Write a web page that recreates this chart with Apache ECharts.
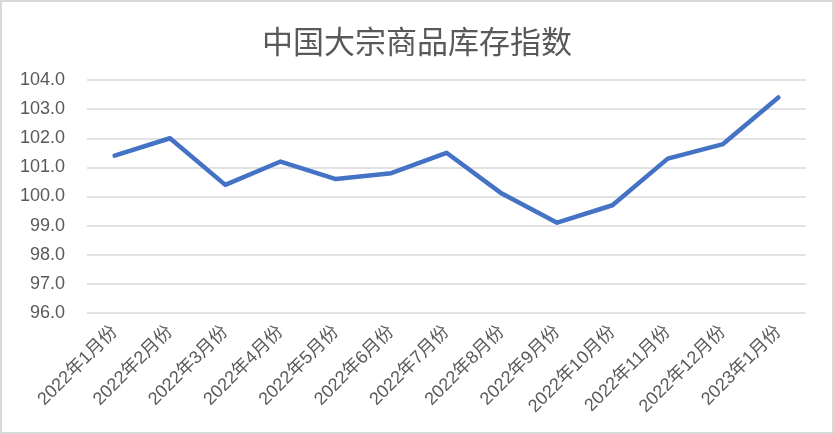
<!DOCTYPE html>
<html><head><meta charset="utf-8">
<script src="https://cdn.jsdelivr.net/npm/echarts@6/dist/echarts.min.js"></script>
<style>html,body{margin:0;padding:0;background:#fff}#c{width:834px;height:434px}</style>
</head><body><div id="c"></div>
<script>
const title = '中国大宗商品库存指数';
const categories = ['2022年1月份','2022年2月份','2022年3月份','2022年4月份','2022年5月份','2022年6月份','2022年7月份','2022年8月份','2022年9月份','2022年10月份','2022年11月份','2022年12月份','2023年1月份'];
const values = [101.4, 102.0, 100.4, 101.2, 100.6, 100.8, 101.5, 100.1, 99.1, 99.7, 101.3, 101.8, 103.4];
const yMin = 96, yMax = 104, yStep = 1;

const chart = echarts.init(document.getElementById('c'), null, {renderer:'canvas'});
chart.setOption({
  backgroundColor:'#fff',
  animation:false,
  graphic:[{type:'rect', shape:{x:1,y:1,width:832,height:432}, style:{fill:'none', stroke:'#d9d9d9', lineWidth:2}, silent:true}],
  title:{text:title, left:'center', top:21, textStyle:{color:'#595959', fontSize:31, fontWeight:'normal', fontFamily:'Noto Sans CJK SC'}},
  grid:{left:87, right:28, top:80, bottom:121},
  xAxis:{type:'category', data:categories, boundaryGap:true,
    axisLine:{show:false}, axisTick:{show:false},
    axisLabel:{rotate:45, interval:0, margin:16, color:'#595959', fontSize:18, fontFamily:'Liberation Sans, Noto Sans CJK SC'}},
  yAxis:{type:'value', min:yMin, max:yMax, interval:yStep,
    axisLine:{show:false}, axisTick:{show:false},
    axisLabel:{formatter:v=>v.toFixed(1), color:'#595959', fontSize:18, margin:22, fontFamily:'Liberation Sans'},
    splitLine:{lineStyle:{color:'#d9d9d9', width:1.5}}},
  series:[{type:'line', data:values, symbol:'none', lineStyle:{color:'#4472C4', width:4.5, cap:'round', join:'round'}}]
});
</script></body></html>
